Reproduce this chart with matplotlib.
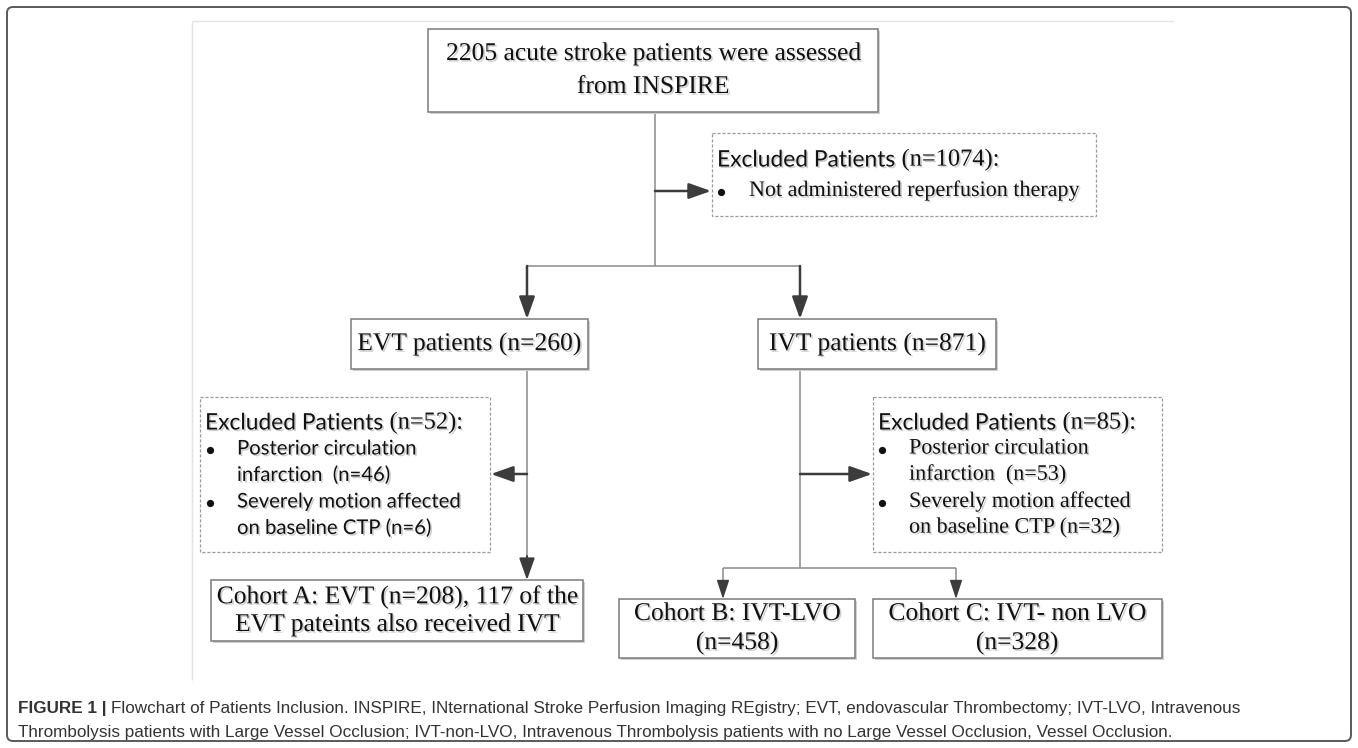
import matplotlib
matplotlib.use("Agg")
import matplotlib.pyplot as plt
import matplotlib.patheffects as pe
from matplotlib.patches import Rectangle, FancyBboxPatch

# box texts
top_text = ["2205 acute stroke patients were assessed", "from INSPIRE"]
evt_text = "EVT patients (n=260)"
ivt_text = "IVT patients (n=871)"
excl_titles = ["Excluded Patients ", "(n=1074):", "(n=52):", "(n=85):"]
excl1_items = ["Not administered reperfusion therapy"]
excl2_items = [["Posterior circulation", "infarction  (n=46)"],
               ["Severely motion affected", "on baseline CTP (n=6)"]]
excl3_items = [["Posterior circulation", "infarction  (n=53)"],
               ["Severely motion affected", "on baseline CTP (n=32)"]]
cohort_a = ["Cohort A: EVT (n=208), 117 of the", "EVT pateints also received IVT"]
cohort_b = ["Cohort B: IVT-LVO", "(n=458)"]
cohort_c = ["Cohort C: IVT- non LVO", "(n=328)"]
caption_head = "FIGURE 1 | "
caption_lines = [
    "Flowchart of Patients Inclusion. INSPIRE, INternational Stroke Perfusion Imaging REgistry; "
    "EVT, endovascular Thrombectomy; IVT-LVO, Intravenous",
    "Thrombolysis patients with Large Vessel Occlusion; IVT-non-LVO, Intravenous Thrombolysis "
    "patients with no Large Vessel Occlusion, Vessel Occlusion.",
]

SERIF = "Liberation Serif"
SANS = "Lato"
BIG = 18.4
W, H = 1358, 748

fig = plt.figure(figsize=(W / 100, H / 100), dpi=100)
ax = fig.add_axes([0, 0, 1, 1])
ax.set_xlim(0, W)
ax.set_ylim(H, 0)
ax.axis("off")

shadow = [pe.SimplePatchShadow(offset=(1.2, -1.2), shadow_rgbFace="#c4c4c4", alpha=0.8), pe.Normal()]


def box(x0, y0, x1, y1, dashed=False):
    r = Rectangle((x0, y0), x1 - x0, y1 - y0, fill=True, facecolor="white",
                  edgecolor="#9a9a9a" if dashed else "#7a7a7a",
                  lw=0.9 if dashed else 1.1, ls=(0, (2.5, 1.5)) if dashed else "-", zorder=2)
    if not dashed:
        r.set_path_effects([pe.SimplePatchShadow(offset=(1.5, -1.5), shadow_rgbFace="#d0d0d0", alpha=1), pe.Normal()])
    ax.add_patch(r)


def txt(x, y, s, size=BIG, family=SERIF, ha="center", **kw):
    return ax.text(x, y, s, fontsize=size, family=family, ha=ha, va="center",
                   color="#111111", path_effects=shadow, zorder=4, **kw)


def title(x, y, tail):
    t = txt(x, y, excl_titles[0], size=16.4, family=SANS, ha="left")
    ax.annotate(tail, xy=(1, 0.5), xycoords=t, va="center", ha="left",
                fontsize=17.6, family=SERIF, color="#111111", path_effects=shadow, zorder=4)


def bullet(x, y):
    ax.plot([x], [y], marker="o", ms=4.2, color="#111111", zorder=4)


def line(xs, ys, color="#8a8a8a", lw=1.1):
    ax.plot(xs, ys, color=color, lw=lw, solid_capstyle="butt", zorder=1)


def arrow(x0, y0, x1, y1, lw=1.8, color="#3c3c3c", hl=1.35, hw=0.48):
    ax.annotate("", xy=(x1, y1), xytext=(x0, y0),
                arrowprops=dict(arrowstyle=f"-|>,head_length={hl},head_width={hw}",
                                color=color, lw=lw, shrinkA=0, shrinkB=0), zorder=3)


# outer frame and faint inner frame
frame = FancyBboxPatch((7, 7), W - 14, H - 14, boxstyle="round,pad=0,rounding_size=6",
                       fill=False, edgecolor="#5a5a5a", lw=1.4, zorder=0)
ax.add_patch(frame)
line([192, 1174], [21, 21], color="#e4e4e4", lw=1.0)
line([192, 192], [21, 680], color="#e4e4e4", lw=1.0)

# top box
box(428, 29, 878, 112)
txt(653, 54, top_text[0])
txt(653, 87, top_text[1])

# central trunk and first exclusion
line([655, 655], [112, 266])
arrow(655, 191, 711, 191)
box(712, 133, 1096, 216, dashed=True)
title(717, 160, excl_titles[1])
bullet(721, 192)
txt(749, 191, excl1_items[0], size=15.9, ha="left")

# split into EVT / IVT
line([527, 800], [266, 266])
arrow(527, 266, 527, 319)
arrow(800, 266, 800, 319)
box(351, 319, 588, 369)
txt(469, 344, evt_text)
box(758, 319, 996, 369)
txt(877, 344, ivt_text)

# EVT branch
line([527, 527], [369, 565])
arrow(527, 474, 491, 474)
arrow(527, 556, 527, 580, lw=1.4)
box(200, 397, 490, 552, dashed=True)
title(205, 423, excl_titles[2])
ys = [449, 475, 502, 528]
for i, item in enumerate(excl2_items):
    bullet(210, ys[2 * i] + 1)
    txt(237, ys[2 * i], item[0], size=14.6, family=SANS, ha="left")
    txt(237, ys[2 * i + 1], item[1], size=14.6, family=SANS, ha="left")
box(211, 580, 583, 641)
txt(397, 597, cohort_a[0])
txt(397, 625, cohort_a[1])

# IVT branch
line([800, 800], [369, 568])
arrow(800, 474, 872, 474)
box(873, 397, 1162, 552, dashed=True)
title(878, 423, excl_titles[3])
for i, item in enumerate(excl3_items):
    bullet(882, ys[2 * i] + 1)
    txt(909, ys[2 * i], item[0], size=15.9, ha="left")
    txt(909, ys[2 * i + 1], item[1], size=15.9, ha="left")

line([723, 956], [568, 568])
for xb in (723, 956):
    line([xb, xb], [568, 586])
    arrow(xb, 582, xb, 599, lw=1.1, hl=1.15, hw=0.38)
box(619, 599, 855, 658)
txt(737, 614, cohort_b[0])
txt(737, 643, cohort_b[1])
box(873, 599, 1162, 658)
txt(1017, 614, cohort_c[0])
txt(1017, 643, cohort_c[1])

# caption
c = ax.text(18, 708, caption_head, fontsize=12.3, family="Liberation Sans", weight="bold",
            color="#333333", va="center", ha="left")
ax.annotate(caption_lines[0], xy=(1, 0.5), xycoords=c, va="center", ha="left",
            fontsize=12.3, family="Liberation Sans", color="#333333")
ax.text(18, 732, caption_lines[1], fontsize=12.3, family="Liberation Sans",
        color="#333333", va="center", ha="left")

fig.savefig("out.png", dpi=100)
